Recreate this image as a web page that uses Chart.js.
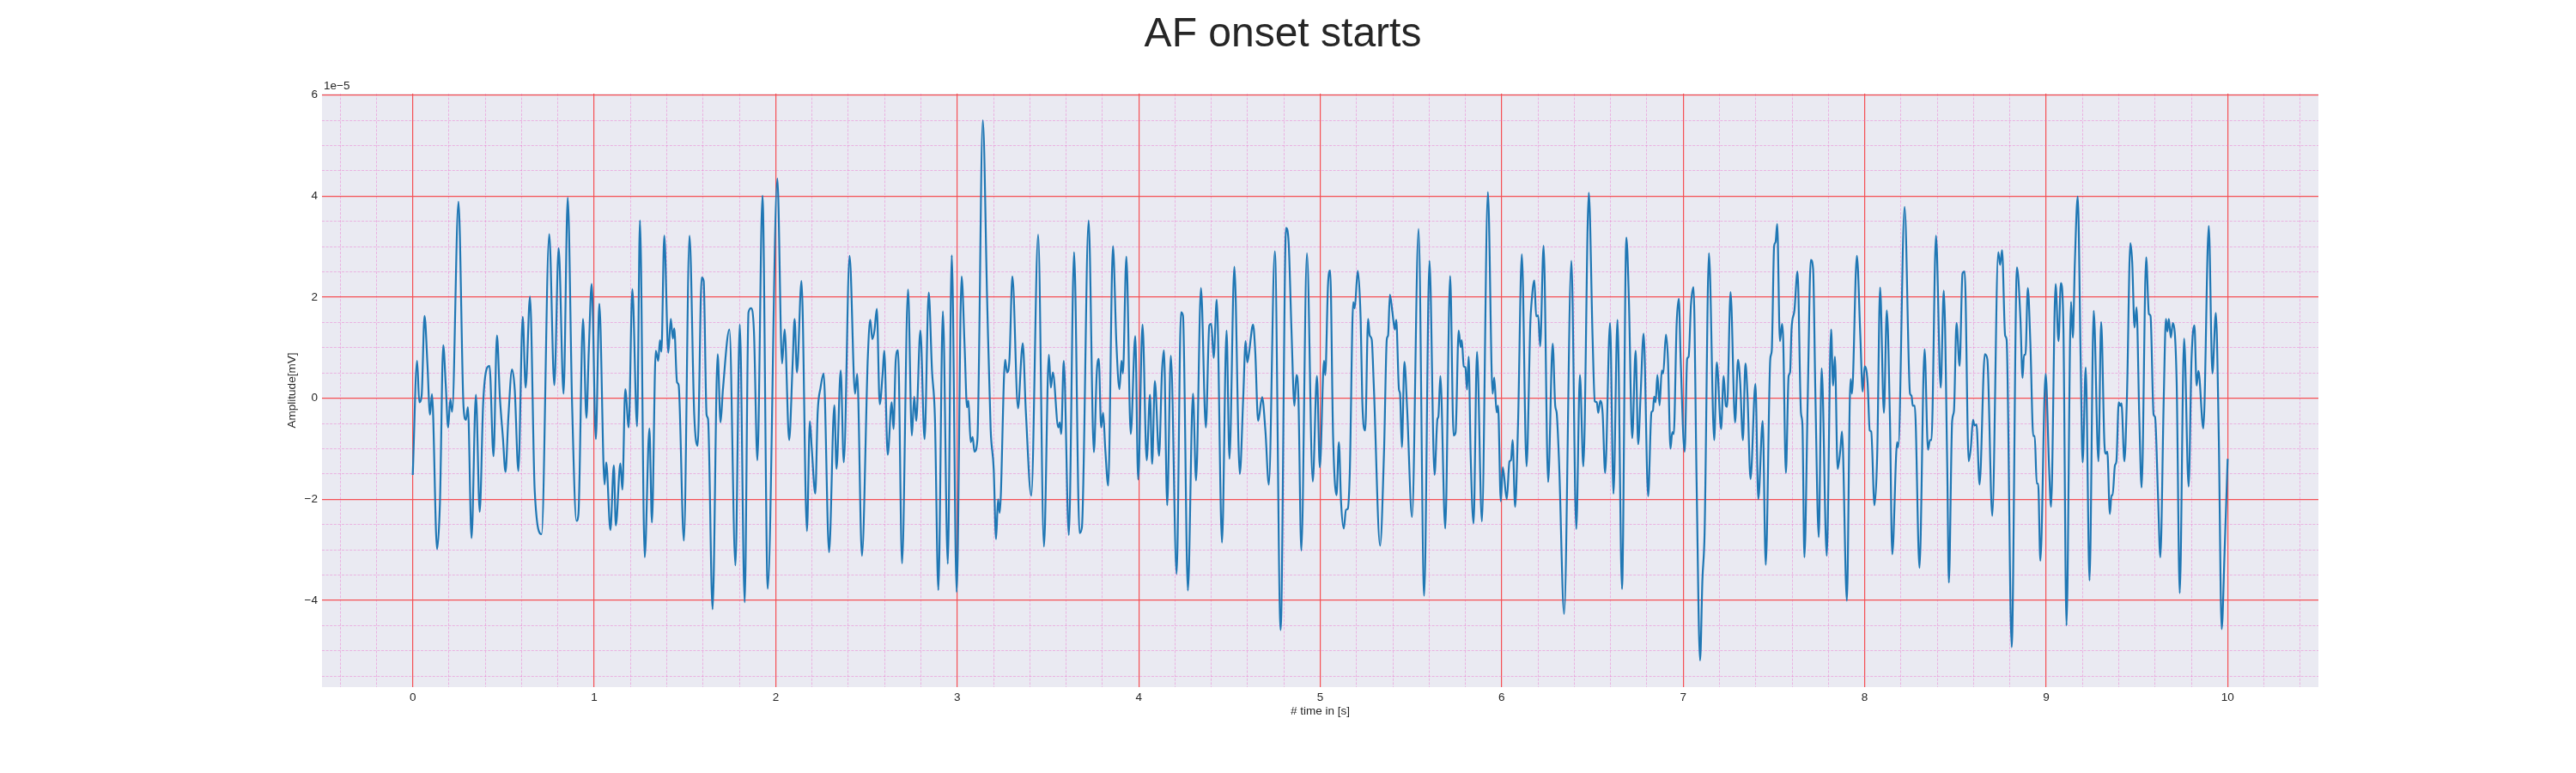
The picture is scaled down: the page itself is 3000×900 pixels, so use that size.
<!DOCTYPE html>
<html>
<head>
<meta charset="utf-8">
<script src="https://cdn.jsdelivr.net/npm/chart.js@4.4.1/dist/chart.umd.min.js"></script>
<style>
html,body{margin:0;padding:0;background:#ffffff;}
canvas{display:block;}
</style>
</head>
<body>
<canvas id="c" width="3000" height="900" style="width:3000px;height:900px"></canvas>
<script>
const TITLE = 'AF onset starts';
const X_LABEL = '# time in [s]';
const Y_LABEL = 'Amplitude[mV]';
const Y_OFFSET_TEXT = '1e\u22125';

// time in seconds
const TIME_S = [
  0.000,0.024,0.036,0.049,0.065,0.081,0.095,0.106,0.134,0.150,
  0.168,0.182,0.195,0.207,0.217,0.252,0.280,0.293,0.304,0.324,
  0.348,0.369,0.388,0.408,0.423,0.445,0.464,0.480,0.497,0.511,
  0.527,0.547,0.562,0.582,0.606,0.622,0.646,0.672,0.710,0.752,
  0.780,0.804,0.831,0.854,0.878,0.902,0.913,0.938,0.957,0.970,
  0.986,1.009,1.028,1.057,1.066,1.089,1.108,1.119,1.144,1.155,
  1.171,1.190,1.210,1.236,1.252,1.278,1.304,1.318,1.339,1.353,
  1.362,1.370,1.386,1.408,1.422,1.433,1.441,1.456,1.465,1.494,
  1.525,1.551,1.570,1.592,1.603,1.619,1.627,1.652,1.680,1.696,
  1.709,1.745,1.778,1.802,1.829,1.850,1.864,1.880,1.899,1.927,
  1.956,2.009,2.035,2.049,2.074,2.093,2.104,2.117,2.142,2.172,
  2.188,2.199,2.218,2.231,2.247,2.264,2.294,2.323,2.335,2.358,
  2.375,2.407,2.437,2.449,2.475,2.508,2.521,2.532,2.544,2.557,
  2.573,2.589,2.598,2.617,2.639,2.649,2.661,2.674,2.696,2.729,
  2.750,2.763,2.774,2.797,2.820,2.843,2.861,2.877,2.896,2.921,
  2.948,2.970,2.997,3.024,3.041,3.054,3.062,3.074,3.085,3.095,
  3.111,3.141,3.165,3.184,3.201,3.214,3.225,3.234,3.264,3.275,
  3.288,3.304,3.335,3.354,3.361,3.378,3.408,3.446,3.478,3.505,
  3.516,3.527,3.557,3.565,3.573,3.587,3.615,3.644,3.674,3.687,
  3.724,3.753,3.769,3.780,3.793,3.804,3.816,3.832,3.858,3.877,
  3.894,3.905,3.913,3.932,3.956,3.981,3.997,4.021,4.044,4.062,
  4.074,4.089,4.112,4.128,4.139,4.157,4.177,4.209,4.233,4.244,
  4.271,4.299,4.316,4.343,4.370,4.389,4.400,4.413,4.430,4.459,
  4.484,4.500,4.527,4.557,4.576,4.589,4.598,4.608,4.630,4.642,
  4.658,4.680,4.698,4.717,4.750,4.782,4.812,4.826,4.842,4.858,
  4.869,4.880,4.896,4.927,4.959,4.982,4.998,5.021,5.028,5.043,
  5.055,5.071,5.090,5.103,5.115,5.130,5.142,5.152,5.163,5.182,
  5.190,5.207,5.223,5.232,5.248,5.264,5.273,5.284,5.295,5.330,
  5.352,5.367,5.374,5.384,5.398,5.411,5.419,5.434,5.440,5.450,
  5.464,5.479,5.506,5.542,5.573,5.602,5.630,5.646,5.651,5.662,
  5.689,5.716,5.735,5.746,5.763,5.774,5.780,5.791,5.800,5.809,
  5.818,5.829,5.845,5.864,5.891,5.924,5.950,5.959,5.972,5.980,
  5.995,6.006,6.028,6.043,6.051,6.060,6.074,6.090,6.111,6.137,
  6.158,6.164,6.180,6.190,6.201,6.212,6.231,6.256,6.281,6.295,
  6.303,6.316,6.344,6.384,6.411,6.431,6.450,6.480,6.501,6.513,
  6.524,6.532,6.543,6.556,6.570,6.597,6.616,6.638,6.663,6.687,
  6.701,6.719,6.738,6.752,6.765,6.782,6.807,6.825,6.833,6.840,
  6.848,6.858,6.870,6.882,6.890,6.905,6.916,6.930,6.940,6.948,
  6.964,6.976,6.986,7.008,7.022,7.030,7.043,7.057,7.074,7.093,
  7.106,7.118,7.142,7.171,7.185,7.209,7.223,7.235,7.242,7.261,
  7.286,7.302,7.314,7.329,7.343,7.354,7.371,7.398,7.414,7.438,
  7.455,7.480,7.488,7.501,7.509,7.518,7.533,7.545,7.551,7.566,
  7.581,7.589,7.597,7.613,7.630,7.649,7.657,7.668,7.686,7.703,
  7.716,7.728,7.747,7.763,7.791,7.815,7.826,7.836,7.851,7.866,
  7.875,7.902,7.918,7.923,7.930,7.957,7.976,7.989,8.000,8.016,
  8.028,8.036,8.054,8.069,8.085,8.106,8.122,8.139,8.152,8.179,
  8.185,8.220,8.250,8.258,8.265,8.276,8.302,8.330,8.349,8.360,
  8.368,8.393,8.419,8.436,8.455,8.464,8.482,8.492,8.506,8.523,
  8.539,8.551,8.573,8.585,8.597,8.605,8.616,8.633,8.662,8.676,
  8.703,8.736,8.746,8.757,8.774,8.782,8.810,8.839,8.858,8.870,
  8.878,8.886,8.899,8.913,8.929,8.937,8.948,8.956,8.968,8.997,
  9.016,9.027,9.052,9.068,9.081,9.095,9.112,9.137,9.147,9.158,
  9.174,9.190,9.201,9.218,9.239,9.262,9.288,9.303,9.321,9.329,
  9.337,9.351,9.360,9.366,9.379,9.387,9.400,9.408,9.415,9.431,
  9.445,9.464,9.474,9.487,9.498,9.513,9.526,9.551,9.566,9.575,
  9.592,9.600,9.616,9.629,9.648,9.660,9.668,9.676,9.687,9.698,
  9.719,9.736,9.760,9.785,9.801,9.817,9.829,9.839,9.866,9.896,
  9.916,9.935,9.951,9.967,9.983,10.000
];

// amplitude in units of 1e-5
const AMPLITUDE_E5 = [
  -1.52,0.74,-0.08,0.05,1.63,0.67,-0.33,0.08,-2.99,-2.06,
  1.05,0.25,-0.58,-0.02,-0.27,3.89,-0.18,-0.43,-0.18,-2.77,
  0.07,-2.25,-0.10,0.59,0.64,-1.15,1.24,0.03,-0.79,-1.46,
  -0.37,0.57,0.17,-1.44,1.61,0.21,2.01,-1.83,-2.69,3.25,
  0.26,2.97,0.09,3.97,-0.12,-2.43,-2.29,1.57,-0.39,0.94,
  2.26,-0.81,1.87,-1.71,-1.27,-2.61,-1.33,-2.52,-1.29,-1.81,
  0.18,-0.58,2.16,-0.56,3.52,-3.15,-0.60,-2.46,0.94,0.74,
  1.15,0.92,3.22,0.90,1.57,1.18,1.38,0.32,0.26,-2.82,
  3.22,-0.33,-0.94,2.39,2.32,-0.33,-0.41,-4.18,0.87,-0.48,
  0.17,1.36,-3.31,1.46,-4.04,1.70,1.78,1.32,-1.23,4.01,
  -3.77,4.35,0.69,1.36,-0.83,0.67,1.57,0.51,2.32,-2.63,
  -0.46,-1.02,-1.89,-0.29,0.21,0.49,-3.05,-0.14,-1.40,0.55,
  -1.27,2.82,0.09,0.48,-3.12,0.86,1.55,1.17,1.34,1.77,
  -0.12,0.48,0.94,-1.12,-0.08,-0.61,0.74,0.95,-3.27,2.15,
  -0.74,0.03,-0.45,1.34,-0.81,2.09,0.55,-0.37,-3.80,1.72,
  -3.28,2.83,-3.84,2.41,1.00,-0.18,-0.05,-0.87,-0.77,-1.06,
  -0.83,5.50,1.93,-0.60,-1.40,-2.79,-2.00,-2.27,0.76,0.51,
  0.78,2.41,-0.20,0.86,1.09,-0.25,-1.93,3.24,-2.94,0.86,
  0.21,0.51,-0.58,-0.48,-0.71,0.74,-2.71,2.89,-2.67,-2.56,
  3.52,-1.07,0.51,0.78,-0.58,-0.29,-1.02,-1.73,3.01,1.09,
  0.18,0.74,0.49,2.80,-0.71,1.23,-1.61,1.46,-1.23,0.07,
  -1.30,0.34,-1.14,0.51,0.95,-2.12,0.84,-3.48,1.70,1.63,
  -3.81,0.09,-1.63,2.18,-0.58,1.44,1.47,0.80,1.95,-2.86,
  1.34,-1.20,2.60,-1.50,0.02,1.13,0.71,0.90,1.46,0.93,
  -0.45,0.02,-0.64,-1.71,2.91,-4.59,3.37,3.09,1.32,-0.15,
  0.46,0.02,-3.02,2.87,-1.65,0.44,-1.37,0.74,0.46,2.24,
  2.53,-0.75,-1.92,-0.87,-2.06,-2.58,-2.21,-2.19,-1.48,1.90,
  1.78,2.52,1.55,-0.06,-0.64,1.57,1.24,1.16,0.28,-2.92,
  -1.02,1.17,1.24,2.05,1.70,1.36,1.55,0.17,0.09,-0.97,
  0.72,-0.21,-2.35,3.35,-3.91,2.72,-1.52,-0.41,-0.37,0.44,
  -2.58,2.42,-0.74,-0.68,1.34,1.01,1.15,0.63,0.61,0.17,
  0.82,-1.13,-2.48,0.92,-2.44,4.08,0.09,0.41,-0.28,-0.15,
  -2.04,-1.37,-2.00,-1.25,-1.23,-0.83,-2.15,-0.52,2.85,-1.35,
  1.51,1.87,2.33,1.62,1.64,1.03,3.02,-1.66,1.08,-0.15,
  -0.29,-1.25,-4.27,2.72,-2.59,0.46,-1.35,4.07,1.17,-0.06,
  -0.08,-0.29,-0.05,-0.29,-1.48,1.49,-1.89,1.55,-3.78,3.18,
  1.93,-0.79,0.94,-0.91,0.03,1.28,-1.94,-0.28,-0.25,0.03,
  -0.08,0.46,-0.14,0.55,0.49,1.26,0.78,-1.00,-0.67,-0.71,
  1.47,1.97,0.78,-1.06,0.78,0.82,1.86,2.20,-1.67,-5.19,
  -3.59,-2.67,2.87,-0.83,0.71,-0.61,0.44,-0.15,-0.17,2.10,
  -0.48,0.76,0.32,-0.83,0.69,0.09,-1.60,0.28,-2.00,-0.45,
  -3.30,0.78,0.94,3.01,3.09,3.45,1.13,1.47,1.17,-1.48,
  0.44,0.51,1.36,1.74,2.51,-0.29,-0.52,-3.15,-0.06,2.74,
  2.55,0.17,-2.75,0.59,-3.12,1.36,0.25,0.82,-1.40,-1.02,
  -0.66,-4.01,-0.06,0.38,0.09,2.82,1.24,0.13,0.63,0.32,
  -0.64,-0.66,-2.12,-1.13,2.19,-0.29,1.74,-0.37,-3.09,-0.87,
  -0.97,3.79,0.09,0.05,-0.15,-0.15,-3.36,0.97,-1.02,-0.83,
  -0.83,3.22,0.21,2.13,-1.36,-3.65,-0.45,-0.25,1.49,0.64,
  2.47,2.51,-1.25,-0.98,-0.43,-0.54,-0.52,-1.71,0.87,0.77,
  -2.33,2.89,2.64,2.93,1.24,1.16,-4.93,2.59,1.59,0.40,
  0.86,0.86,2.18,1.09,-0.75,-0.75,-1.69,-1.69,-3.22,0.48,
  -1.36,-2.15,2.26,1.13,2.28,1.40,-4.50,1.91,1.20,2.67,
  3.99,0.78,-1.27,0.61,-3.61,1.73,-1.25,1.51,-0.90,-1.10,
  -1.06,-2.29,-1.92,-1.92,-1.33,-1.25,-0.08,-0.15,-0.10,-1.25,
  0.02,3.07,2.70,1.40,1.80,-0.37,-1.77,2.79,1.67,1.63,
  -0.33,-0.37,-1.90,-3.15,0.02,1.57,1.32,1.57,1.20,1.49,
  0.32,-3.86,1.18,-1.75,0.78,1.44,0.25,0.54,-0.60,3.41,
  0.49,1.69,-0.75,-4.57,-3.05,-1.20
];

const X_MAJOR_TICKS = [0,1,2,3,4,5,6,7,8,9,10];
const Y_MAJOR_TICKS = [-4,-2,0,2,4,6];
const X_MINOR_STEP = 0.2;
const Y_MINOR_STEP = 0.5;
const X_RANGE = [-0.5, 10.5];
const Y_RANGE = [-5.72, 6.03];

const FONT = "'Liberation Sans', Arial, Helvetica, sans-serif";
const TEXT_COLOR = '#262626';
const MAJOR_COLOR = 'rgb(245,80,84)';
const MINOR_COLOR = 'rgba(235,100,200,0.45)';
const PLOT_BG = '#EAEAF2';
const LINE_COLOR = '#1f77b4';

function gridValues(lo, hi, step) {
  const out = [];
  const kStart = Math.ceil(lo / step - 1e-9);
  const kEnd = Math.floor(hi / step + 1e-9);
  for (let k = kStart; k <= kEnd; k++) out.push(Math.round(k * step * 1e6) / 1e6);
  return out;
}
const isMajorIn = (list, v) => list.some(m => Math.abs(m - v) < 1e-6);
const fmt = v => (v < 0 ? '\u2212' + Math.abs(v) : String(v));

const points = TIME_S.map((t, i) => ({ x: t, y: AMPLITUDE_E5[i] }));

const bgPlugin = {
  id: 'plotBg',
  beforeDraw(chart) {
    const { ctx, chartArea: a } = chart;
    ctx.save();
    ctx.fillStyle = '#ffffff';
    ctx.fillRect(0, 0, chart.width, chart.height);
    ctx.fillStyle = PLOT_BG;
    ctx.fillRect(a.left, a.top, a.right - a.left, a.bottom - a.top);
    ctx.restore();
  },
  afterDraw(chart) {
    const { ctx, chartArea: a } = chart;
    ctx.save();
    ctx.fillStyle = TEXT_COLOR;
    ctx.font = '13.5px ' + FONT;
    ctx.textAlign = 'left';
    ctx.textBaseline = 'alphabetic';
    ctx.fillText(Y_OFFSET_TEXT, a.left + 2, a.top - 5);
    ctx.restore();
  }
};

function gridOpts(majorList) {
  return {
    drawTicks: false,
    color: c => (c.tick && isMajorIn(majorList, c.tick.value)) ? MAJOR_COLOR : MINOR_COLOR,
    lineWidth: c => (c.tick && isMajorIn(majorList, c.tick.value)) ? 1.2 : 0.9
  };
}
function borderOpts(majorList) {
  return {
    display: false,
    dash: c => (c && c.tick && !isMajorIn(majorList, c.tick.value)) ? [3, 1.6] : []
  };
}

new Chart(document.getElementById('c'), {
  type: 'line',
  data: {
    datasets: [{
      data: points,
      borderColor: LINE_COLOR,
      borderWidth: 2.2,
      pointRadius: 0,
      fill: false,
      cubicInterpolationMode: 'monotone'
    }]
  },
  plugins: [bgPlugin],
  options: {
    responsive: false,
    animation: false,
    devicePixelRatio: 1,
    layout: { padding: { left: 288, right: 300, top: 0, bottom: 50 } },
    plugins: {
      legend: { display: false },
      tooltip: { enabled: false },
      title: {
        display: true,
        text: TITLE,
        color: TEXT_COLOR,
        font: { family: FONT, size: 48, weight: 'normal' },
        padding: { top: 11.7, bottom: 39.7 }
      }
    },
    scales: {
      x: {
        type: 'linear',
        min: X_RANGE[0],
        max: X_RANGE[1],
        afterBuildTicks: s => { s.ticks = gridValues(X_RANGE[0], X_RANGE[1], X_MINOR_STEP).map(v => ({ value: v })); },
        afterFit: s => { s.height = 50; },
        grid: gridOpts(X_MAJOR_TICKS),
        border: borderOpts(X_MAJOR_TICKS),
        ticks: {
          autoSkip: false, maxRotation: 0, minRotation: 0, padding: 4,
          color: TEXT_COLOR, font: { family: FONT, size: 13.5 },
          callback: v => isMajorIn(X_MAJOR_TICKS, v) ? fmt(Math.round(v)) : ''
        },
        title: {
          display: true, text: X_LABEL, color: TEXT_COLOR,
          font: { family: FONT, size: 13.5 }, padding: { top: 0, bottom: 13.9 }
        }
      },
      y: {
        type: 'linear',
        min: Y_RANGE[0],
        max: Y_RANGE[1],
        afterBuildTicks: s => { s.ticks = gridValues(Y_RANGE[0], Y_RANGE[1], Y_MINOR_STEP).map(v => ({ value: v })); },
        afterFit: s => { s.width = 87; },
        grid: gridOpts(Y_MAJOR_TICKS),
        border: borderOpts(Y_MAJOR_TICKS),
        ticks: {
          autoSkip: false, padding: 5,
          color: TEXT_COLOR, font: { family: FONT, size: 13.5 },
          callback: v => isMajorIn(Y_MAJOR_TICKS, v) ? fmt(Math.round(v)) : ''
        },
        title: {
          display: true, text: Y_LABEL, color: TEXT_COLOR,
          font: { family: FONT, size: 13.5 }, padding: { top: 43.9, bottom: 0 }
        }
      }
    }
  }
});
</script>
</body>
</html>
